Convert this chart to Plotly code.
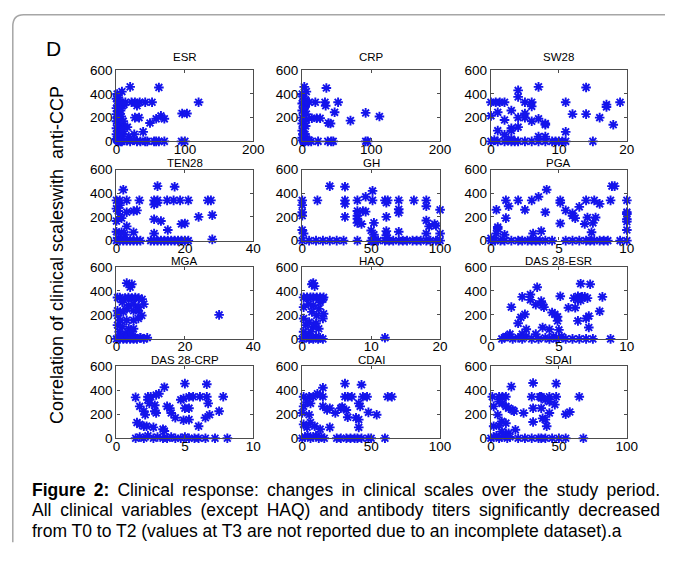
import plotly.graph_objects as go

W, H = 676, 563

# ---------------- data ----------------
titles = ["ESR", "CRP", "SW28", "TEN28", "GH", "PGA", "MGA", "HAQ",
          "DAS 28-ESR", "DAS 28-CRP", "CDAI", "SDAI"]
x_max = [200, 200, 20, 40, 100, 10, 40, 20, 10, 10, 100, 100]
x_ticks = [[0, 100, 200], [0, 100, 200], [0, 10, 20], [0, 20, 40], [0, 50, 100],
           [0, 5, 10], [0, 20, 40], [0, 10, 20], [0, 5, 10], [0, 5, 10],
           [0, 50, 100], [0, 50, 100]]
y_ticks = [0, 200, 400, 600]

esr_x = [0, 0, 0, 0, 0, 0, 0, 1, 1, 2, 2, 3, 3, 4, 4, 5, 5, 6, 6, 7, 8, 8, 9, 10, 10, 12, 3, 5, 2, 7, 4, 9, 1, 6, 11,
         6, 13, 22, 27, 34, 42, 52, 20, 62, 120, 96, 103, 30, 27, 33, 58, 65, 70, 49, 39, 26, 16, 18,
         20, 30, 45, 55, 58, 62, 70, 95, 100, 15, 25, 35, 42]
esr_y = [20, 60, 110, 170, 230, 280, 360, 10, 400, 150, 300, 0, 250, 90, 190, 40, 330, 130, 260, 210, 420, 0, 300, 170, 60, 120, 370, 230, 340, 20, 280, 100, 200, 0, 310,
         330, 330, 330, 330, 330, 330, 330, 460, 455, 330, 235, 235, 300, 200, 200, 190, 215, 190, 155, 80, 60, 120, 40,
         0, 0, 0, 0, 0, 0, 0, 0, 0, 5, 10, 0, 0]

crp_x = [0, 0, 0, 0, 0, 0, 1, 1, 2, 2, 3, 3, 4, 4, 5, 5, 6, 1, 2, 3, 0, 4, 6, 2, 5,
         3, 6, 35, 5, 10, 19, 33, 52, 34, 47, 92, 112, 70, 38, 41, 14, 21, 26,
         2, 9, 13, 23, 37, 42, 45, 92, 95, 10]
crp_y = [30, 90, 150, 200, 260, 320, 60, 380, 110, 240, 20, 170, 290, 0, 130, 350, 230, 10, 0, 280, 400, 60, 180, 330, 40,
         460, 420, 450, 330, 330, 330, 330, 330, 300, 245, 240, 210, 175, 155, 150, 195, 195, 195,
         0, 0, 0, 0, 0, 0, 0, 0, 0, 10]

sw28_x = [7, 14, 4, 4, 0, 0.7, 1.3, 2, 5, 6, 6, 11, 19, 17, 17, 1, 3, 12, 14, 16, 0, 4, 5, 5, 2, 6, 7, 8, 8, 18,
          3, 3, 4, 1, 2, 7, 8, 11, 3,
          0, 1, 2, 3, 3.5, 4, 5, 6, 7, 8, 9, 9.5, 10, 10.5, 11, 15, 0.5, 2.5]
sw28_y = [460, 455, 430, 375, 330, 330, 330, 330, 330, 330, 295, 330, 330, 310, 290, 245, 260, 230, 230, 200, 215, 200, 200, 235, 180, 170, 190, 150, 140, 140,
          110, 90, 120, 90, 55, 40, 40, 80, 20,
          0, 0, 0, 0, 0, 0, 0, 0, 0, 0, 0, 0, 0, 0, 0, 0, 10, 5]

ten28_x = [2, 12, 17, 0, 1, 3, 6.7, 11, 12, 14.8, 16.7, 18.6, 21, 26.7, 27.6,
           1, 11, 12, 0.5, 5, 6, 3, 28, 24, 11, 13, 19, 20, 15, 11, 5, 0, 0, 0.5, 1, 1.5, 1.5, 2.5, 3, 0,
           0, 1, 2, 3, 4, 5, 6, 7, 10, 11, 12, 13, 14, 15, 16, 17, 18, 19, 20, 21, 28]
ten28_y = [430, 460, 455, 340, 340, 340, 340, 340, 340, 340, 340, 340, 340, 340, 340,
           300, 305, 320, 250, 250, 255, 240, 215, 200, 180, 165, 140, 145, 90, 60, 70, 165, 75, 20, 200, 190, 70, 50, 120, 270,
           0, 0, 0, 0, 0, 0, 0, 0, 0, 0, 0, 0, 0, 0, 0, 0, 0, 0, 0, 0, 10]

gh_x = [20, 31, 51, 46, 0, 11, 31, 40, 51, 60, 62, 70, 81, 90, 61, 31, 0, 90, 100, 70, 70, 40, 44, 46,
        0, 0, 40, 40, 40, 43, 31, 61, 52, 90, 96, 97, 92, 0, 1, 50, 61, 70, 90, 100, 52, 61,
        0, 5, 10, 15, 20, 25, 30, 40, 50, 51, 52, 55, 60, 63, 66, 70, 73, 76, 80, 83, 86, 90, 93, 97, 100]
gh_y = [460, 455, 420, 370, 340, 340, 340, 340, 340, 340, 340, 340, 340, 340, 320, 310, 300, 290, 260, 265, 235, 250, 250, 245,
        240, 210, 210, 185, 150, 140, 200, 200, 150, 170, 140, 125, 120, 90, 60, 85, 80, 75, 60, 60, 50, 45,
        0, 0, 0, 0, 0, 0, 0, 0, 0, 0, 0, 0, 0, 0, 0, 0, 0, 0, 0, 0, 0, 0, 0, 0, 0]

pga_x = [4.1, 8.9, 9.1, 1.1, 2, 3, 3.5, 5.1, 5.1, 7, 7.6, 8.8, 10, 8, 6.5, 1.3, 0.4, 2.5, 4, 5.5, 6, 6, 6.2, 7.1, 7.7,
         10, 10, 10, 10, 1.1, 6.9, 7.5, 5.1, 0.5, 0.5, 10, 3.7, 3.1, 0.4, 1, 7.4, 0,
         0, 0.3, 0.7, 1, 1.5, 2, 2.3, 2.7, 3, 3.3, 3.6, 4, 4.5, 5.5, 6, 6.5, 7, 7.3, 7.6, 8, 8.3, 8.6, 9.5, 10]
pga_y = [430, 460, 460, 340, 340, 340, 370, 340, 320, 340, 340, 340, 340, 310, 285, 290, 260, 260, 240, 255, 230, 210, 190, 195, 195,
         240, 225, 180, 160, 190, 140, 150, 145, 100, 115, 90, 80, 60, 60, 50, 70, 20,
         0, 0, 0, 0, 0, 0, 0, 0, 0, 0, 0, 0, 0, 0, 0, 0, 0, 0, 0, 0, 0, 0, 0, 0]

mga_x = [3, 4.5, 4, 30, 0.3, 1, 2.5, 3.5, 4.5, 5.5, 6.5, 7.5, 8, 1.7, 3.6, 5, 6.4, 0.3, 2, 3, 5, 6.4, 0.3, 7.4,
         1.2, 3, 5, 6.4, 0.3, 1.7, 3.6, 5, 0.8, 2.6, 4.5, 2, 4, 7,
         0, 0.5, 1, 1.5, 2, 2.5, 3, 3.5, 4, 4.5, 5, 5.5, 6, 7, 8, 9]
mga_y = [465, 455, 430, 200, 345, 345, 340, 345, 340, 345, 340, 330, 290, 305, 280, 290, 265, 235, 225, 250, 235, 235, 195, 195,
         155, 155, 155, 170, 115, 100, 85, 85, 60, 45, 60, 20, 30, 10,
         0, 10, 0, 20, 0, 10, 0, 20, 0, 10, 0, 10, 0, 10, 0, 10]

haq_x = [1.4, 1.8, 1.6, 0.2, 0.7, 1.2, 1.6, 2.1, 2.6, 3.1, 3, 2.6, 0.9, 0.2, 1.6, 2.4, 3.1, 1.4, 2.1, 3, 0.2,
         0.5, 1.6, 2.4, 1.2, 0.2, 12, 1, 2, 0.6,
         0, 0.3, 0.6, 1, 1.3, 1.6, 2, 2.3, 2.6, 3]
haq_y = [455, 440, 465, 346, 346, 346, 346, 346, 346, 346, 330, 305, 290, 265, 280, 250, 210, 225, 195, 170, 170,
         115, 100, 85, 60, 60, 10, 140, 130, 30,
         0, 10, 20, 0, 10, 0, 20, 0, 10, 0]

das_esr_x = [6.6, 7.3, 3.4, 2.3, 2.9, 2.9, 3.7, 3.8, 3.3, 3.9, 5.1, 6.1, 6.4, 6.7, 6.9, 7.1, 6.4, 6.6, 8.2,
             1.5, 5.7, 6.2, 2.5, 2.2, 4.5, 4.7, 4.9, 7.2, 7, 8, 2, 4.9, 6.4, 7.2, 3.8, 4.3, 2.6, 5, 1.4, 1.1, 2.3, 3.3,
             0.8, 1, 1.3, 1.6, 2, 2.3, 2.6, 3, 3.5, 4, 4.3, 4.6, 4.8, 5, 5.2, 5.5, 6, 6.5, 7, 7.5, 8.8]
das_esr_y = [460, 455, 430, 350, 370, 325, 315, 280, 285, 265, 355, 340, 355, 350, 350, 340, 325, 320, 350,
             265, 260, 260, 205, 180, 220, 205, 185, 190, 170, 230, 130, 150, 150, 95, 95, 80, 80, 75, 40, 20, 40, 40,
             0, 10, 20, 0, 10, 0, 20, 0, 0, 10, 0, 20, 0, 10, 20, 0, 0, 0, 0, 0, 0]

das_crp_x = [5, 6.6, 3.5, 1.4, 2.3, 2.5, 2.9, 3.1, 2.3, 2.4, 2.8, 3.7, 3.9, 4.7, 4.9, 5.3, 5.6, 6.1, 6.6, 6.7, 7.8,
             5.0, 5.3, 1.7, 2, 2.1, 2.8, 2.9, 4, 4.3, 4.9, 5.3, 6.5, 6.8, 7.5, 6, 1.5, 1.7, 2, 2.2, 2.7, 3.4, 3.5,
             1.4, 1.7, 2, 2.3, 2.7, 3, 3.4, 3.7, 4, 4.3, 4.7, 5, 5.3, 5.7, 6, 6.5, 7.2, 8.1]
das_crp_y = [455, 450, 425, 340, 345, 345, 360, 370, 320, 290, 275, 265, 250, 320, 330, 345, 345, 345, 345, 290, 345,
             250, 250, 265, 225, 195, 225, 210, 210, 170, 150, 155, 170, 195, 225, 100, 130, 115, 100, 100, 90, 75, 60,
             0, 10, 0, 20, 0, 10, 0, 0, 10, 0, 0, 10, 0, 0, 0, 0, 0, 0]

cdai_x = [31, 43, 15, 1, 5, 8, 15, 31, 33, 36, 44, 47, 62, 65, 11, 13, 3.5, 6, 15, 18, 20, 28, 29, 32, 41, 42,
          1, 0, 5, 24, 33, 39, 41, 48, 54, 41, 6, 9, 13, 20, 1, 3.5,
          0, 2, 4, 6, 8, 10, 12, 14, 16, 25, 28, 32, 35, 38, 40, 43, 48, 50, 60]
cdai_y = [455, 445, 420, 345, 345, 345, 345, 345, 345, 345, 345, 345, 345, 345, 370, 360, 300, 290, 265, 235, 250, 250, 260, 235, 290, 265,
          265, 210, 195, 210, 175, 170, 155, 215, 195, 90, 130, 100, 75, 90, 115, 90,
          0, 10, 20, 0, 10, 20, 0, 10, 0, 0, 0, 0, 0, 0, 0, 0, 0, 0, 0]

sdai_x = [31, 48, 15, 1, 6, 8.4, 11, 30, 36, 37, 43, 48, 65, 6, 8.4, 37, 40, 43, 47, 11, 13, 31, 37, 2, 16, 17, 24,
          43, 55, 58, 5, 38, 40, 31, 8, 11, 41, 2, 6, 18, 8, 11, 13,
          0, 2, 4, 6, 8, 10, 12, 14, 20, 25, 30, 35, 37, 40, 45, 50, 55, 68]
sdai_y = [460, 455, 430, 345, 345, 345, 345, 345, 345, 345, 345, 345, 345, 305, 290, 335, 320, 305, 280, 265, 250, 250, 250, 265, 235, 225, 210,
          210, 200, 218, 195, 165, 155, 135, 140, 125, 100, 100, 105, 70, 55, 40, 40,
          0, 10, 20, 0, 10, 20, 0, 10, 0, 0, 0, 0, 0, 0, 0, 0, 0, 0]

panel_x = [esr_x, crp_x, sw28_x, ten28_x, gh_x, pga_x, mga_x, haq_x, das_esr_x, das_crp_x, cdai_x, sdai_x]
panel_y = [esr_y, crp_y, sw28_y, ten28_y, gh_y, pga_y, mga_y, haq_y, das_esr_y, das_crp_y, cdai_y, sdai_y]

y_title = "Correlation of clinical scaleswith  anti-CCP"
caption_lines = [
    "<b>Figure 2:</b> Clinical response: changes in clinical scales over the study period.",
    "All clinical variables (except HAQ) and antibody titers significantly decreased",
    "from T0 to T2 (values at T3 are not reported due to an incomplete dataset).a",
]

# ---------------- layout (pixel geometry) ----------------
col_px = [(115, 255), (305, 446), (498, 637)]
row_px = [(65, 138), (167, 240), (267, 341), (369, 443)]

def px(x):
    return x / W

def py(y):
    return 1 - y / H

FONT = "Liberation Sans, Arial, sans-serif"
AX_COLOR = "#4d4d4d"
MARK = "rgb(20,20,235)"

fig = go.Figure()
layout = dict(
    width=W, height=H,
    margin=dict(l=0, r=0, t=0, b=0, pad=0),
    paper_bgcolor="white", plot_bgcolor="white",
    showlegend=False,
    font=dict(family=FONT, color="black", size=13),
)
annotations = []

for i in range(12):
    r, c = divmod(i, 3)
    n = "" if i == 0 else str(i + 1)
    x0, x1 = col_px[c]
    y0, y1 = row_px[r]
    fig.add_trace(go.Scatter(
        x=panel_x[i], y=panel_y[i], mode="markers",
        xaxis="x" + n, yaxis="y" + n, cliponaxis=False,
        marker=dict(symbol="asterisk-open", size=8,
                    line=dict(color=MARK, width=1.9), color=MARK),
        hoverinfo="skip",
    ))
    common = dict(showline=True, mirror="ticks", linecolor=AX_COLOR, linewidth=1.4,
                  ticks="inside", ticklen=3, tickcolor=AX_COLOR, tickwidth=1,
                  showgrid=False, zeroline=False, fixedrange=True,
                  tickfont=dict(family=FONT, size=13.5, color="black"))
    layout["xaxis" + n] = dict(common, domain=[px(x0), px(x1)], anchor="y" + n,
                               range=[0, x_max[i]], tickvals=x_ticks[i],
                               ticktext=[str(v) for v in x_ticks[i]],
                               ticklabelstandoff=-5)
    layout["yaxis" + n] = dict(common, domain=[py(y1), py(y0)], anchor="x" + n,
                               range=[0, 600], tickvals=y_ticks,
                               ticktext=[str(v) for v in y_ticks])
    # subplot title sits just above the panel
    if r == 0:
        ty, yanc = py(y0 - 14), "middle"
    else:
        ty, yanc = py(y0 + 2), "bottom"
    annotations.append(dict(text=titles[i], x=px((x0 + x1) / 2), y=ty,
                            xref="paper", yref="paper", showarrow=False,
                            xanchor="center", yanchor=yanc,
                            font=dict(family=FONT, size=11.5, color="black")))

annotations.append(dict(text="D", x=px(51), y=py(43), xref="paper", yref="paper",
                        showarrow=False, xanchor="center", yanchor="middle",
                        font=dict(family=FONT, size=21, color="black")))
annotations.append(dict(text=y_title, x=px(54), y=py(255), xref="paper", yref="paper",
                        showarrow=False, textangle=-90, xanchor="center", yanchor="middle",
                        font=dict(family=FONT, size=18, color="black")))
for k, line in enumerate(caption_lines):
    annotations.append(dict(text=line, x=px(27), y=py(496 + 21 * k), xref="paper", yref="paper",
                            showarrow=False, xanchor="left", yanchor="middle", align="left",
                            font=dict(family=FONT, size=17.5, color="black")))

layout["annotations"] = annotations

# rounded frame (top and left edges)
path = "M {a},{b} L {c},{b} Q {d},{b} {d},{e} L {d},{f}".format(
    a=px(676), b=py(8), c=px(20), d=px(9), e=py(20), f=py(550))
layout["shapes"] = [dict(type="path", path=path, xref="paper", yref="paper",
                         line=dict(color="#a6a6a6", width=1.5))]

fig.update_layout(**layout)

# justify the first two caption lines to the full text width (as in the reference)
post_js = """
document.body.style.margin='0px';
document.documentElement.style.overflow='hidden';
var gd = document.getElementById('{plot_id}');
var els = gd.querySelectorAll('text.annotation-text');
els.forEach(function(t){
  var s = t.textContent;
  if (s.indexOf('Figure 2') === 0 || s.indexOf('All clinical') === 0) {
    t.style.wordSpacing = '0px';
    var w = t.getComputedTextLength();
    var n = (s.match(/ /g) || []).length;
    if (n > 0 && w < 628) { t.style.wordSpacing = ((628 - w) / n) + 'px'; }
  }
});
"""
fig.write_html("out.html", config={"displayModeBar": False}, post_script=post_js)
